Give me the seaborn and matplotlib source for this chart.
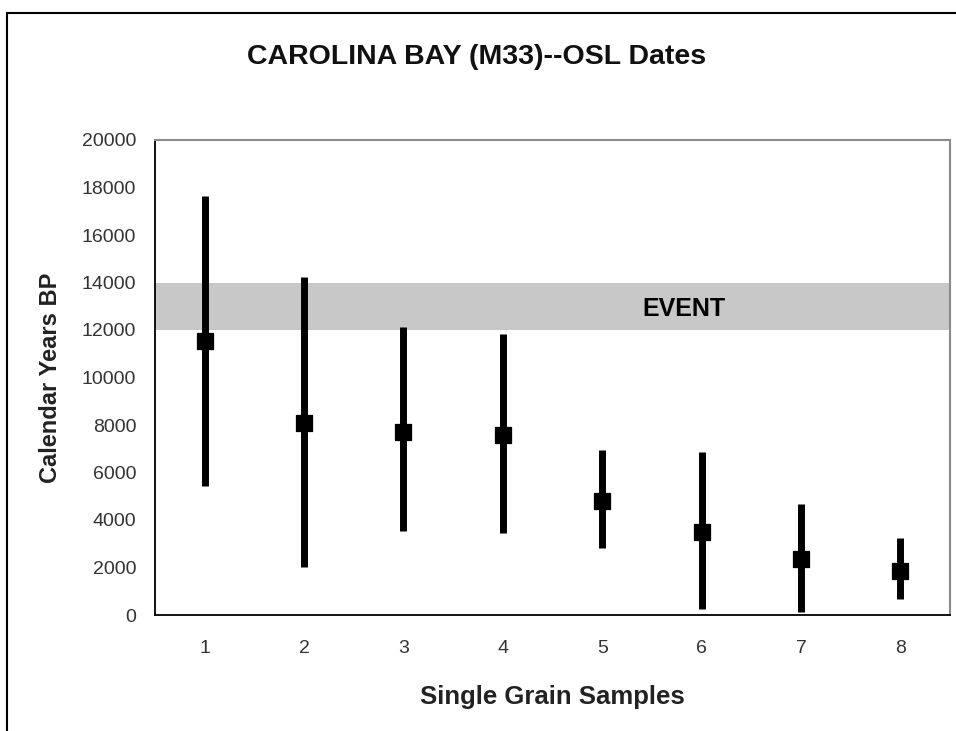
import numpy as np
import pandas as pd
import matplotlib
matplotlib.use('Agg')
import matplotlib.pyplot as plt
import seaborn as sns
from matplotlib.patches import Rectangle

# OSL ages (calendar years BP)
samples = [1, 2, 3, 4, 5, 6, 7, 8]
ages = [11540, 8070, 7720, 7580, 4810, 3510, 2340, 1850]
err_low = [6100, 6030, 4170, 4140, 2000, 3270, 2200, 1190]
err_high = [6100, 6170, 4420, 4240, 2140, 3370, 2330, 1380]
event_band = (12000, 14000)
y_ticks = list(range(0, 20001, 2000))

df = pd.DataFrame({'sample': samples, 'age': ages})

sns.set_style('white')
plt.rcParams['font.family'] = ['Liberation Sans', 'DejaVu Sans']

fig = plt.figure(figsize=(9.56, 7.31), dpi=100)
ax = fig.add_axes([155 / 956, 1 - 615 / 731, (950 - 155) / 956, (615 - 140) / 731])

# outer chart frame
fig.patches.append(Rectangle((7 / 956, -0.05), 1.2, 1 - 13 / 731 + 0.05,
                             transform=fig.transFigure, fill=False,
                             edgecolor='black', linewidth=1.5, zorder=0))

# event band
ax.axhspan(event_band[0], event_band[1], color='#c8c8c8', zorder=0, lw=0)
ax.text(5.82, 12900, 'EVENT', fontsize=18, fontweight='heavy',
        ha='center', va='center', color='black')

# error bars and points
ax.errorbar(df['sample'], df['age'], yerr=[err_low, err_high], fmt='none',
            ecolor='black', elinewidth=5, capsize=0, zorder=2)
sns.scatterplot(data=df, x='sample', y='age', marker='s', s=130, color='black',
                edgecolor='black', ax=ax, zorder=3, legend=False)

ax.set_xlim(0.5, 8.5)
ax.set_ylim(0, 20000)
ax.set_yticks(y_ticks)
ax.set_yticklabels([str(v) for v in y_ticks], fontsize=14, color='#333333')
ax.set_xticks(samples)
ax.set_xticklabels([str(s) for s in samples], fontsize=14, color='#333333')
ax.set_xticks(np.arange(1.5, 8.5, 1.0), minor=True)
ax.tick_params(axis='x', which='major', length=0, pad=18)
ax.tick_params(axis='x', which='minor', direction='inout', length=9, width=1.2, color='black')
ax.tick_params(axis='y', direction='inout', length=9, width=1.2, color='black', pad=9)

for side in ['left', 'bottom']:
    ax.spines[side].set_color('black')
    ax.spines[side].set_linewidth(1.3)
for side in ['top', 'right']:
    ax.spines[side].set_color('#8a8a8a')
    ax.spines[side].set_linewidth(1.5)

ax.set_xlabel('Single Grain Samples', fontsize=18.5, fontweight='bold', labelpad=20, color='#222222')
ax.set_ylabel('Calendar Years BP', fontsize=17, fontweight='bold', labelpad=14, color='#222222')
fig.text(477 / 956, 1 - 57 / 731, 'CAROLINA BAY (M33)--OSL Dates', fontsize=20.5,
         fontweight='bold', ha='center', va='center', color='#111111')

fig.savefig('out.png', dpi=100)
